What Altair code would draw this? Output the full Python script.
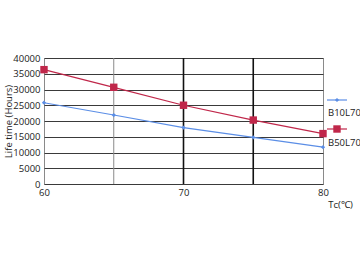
import altair as alt
import pandas as pd

tc = [60, 65, 70, 75, 80]
b10l70 = [25800, 21900, 17900, 14800, 11700]
b50l70 = [36300, 30700, 25000, 20300, 16000]
y_ticks = [0, 5000, 10000, 15000, 20000, 25000, 30000, 35000, 40000]
x_ticks = [60, 70, 80]
vgrid_x = [65, 70, 75]
vgrid_color = ["#8a8a8a", "#111111", "#111111"]
vgrid_width = [1, 1.6, 1.6]

RED = "#c0274a"
BLUE = "#5b8ee6"
FONT = "Open Sans"

df = pd.DataFrame({"tc": tc * 2,
                   "life": b10l70 + b50l70,
                   "series": ["B10L70"] * 5 + ["B50L70"] * 5})
vg = pd.DataFrame({"tc": vgrid_x, "c": vgrid_color, "w": vgrid_width})
one = pd.DataFrame({"k": [0]})

xs = alt.Scale(domain=[60, 80], nice=False, zero=False)
ys = alt.Scale(domain=[0, 40000], nice=False)

xaxis = alt.Axis(values=x_ticks, grid=False, ticks=False, domain=False,
                 labelFontSize=9.5, labelPadding=3, labelColor="#222",
                 labelFont=FONT, labelFlush=False, labelOverlap=False,
                 title="Tc(℃)", titleFont=FONT,
                 titleFontSize=9.5, titleFontWeight="normal", titleColor="#222",
                 titleX=296, titleY=20, titleAlign="center", titleBaseline="middle")
yaxis = alt.Axis(values=y_ticks, format="d", grid=True, gridColor="#3a3a3a", gridWidth=1,
                 ticks=False, domain=False, labelFontSize=9.5, labelPadding=4,
                 labelColor="#222", labelFont=FONT, labelFlush=False,
                 labelOverlap=False,
                 title="Life time (Hours)", titleFont=FONT, titleFontSize=9.5,
                 titleFontWeight="normal", titleColor="#222",
                 titleX=-36, titleY=63, titleAngle=-90,
                 titleAlign="center", titleBaseline="middle")

X = alt.X("tc:Q", scale=xs, axis=xaxis)
Y = alt.Y("life:Q", scale=ys, axis=yaxis)

base = alt.Chart(df)

vrules = alt.Chart(vg).mark_rule().encode(
    x=X,
    color=alt.Color("c:N", scale=None),
    strokeWidth=alt.StrokeWidth("w:Q", scale=None),
)

lines = base.mark_line(strokeWidth=1.2).encode(
    x=X, y=Y,
    color=alt.Color("series:N", scale=alt.Scale(domain=["B10L70", "B50L70"],
                                                range=[BLUE, RED]), legend=None),
)

pts_blue = base.transform_filter(alt.datum.series == "B10L70").mark_point(
    shape="diamond", filled=True, size=18, color=BLUE, opacity=1).encode(x=X, y=Y)
pts_red = base.transform_filter(alt.datum.series == "B50L70").mark_point(
    shape="square", filled=True, size=55, color=RED, opacity=1).encode(x=X, y=Y)

# custom legend (symbol above label)
leg = alt.Chart(one)
leg_rule_b = leg.mark_rule(color=BLUE, strokeWidth=1.2, clip=False).encode(
    x=alt.value(283), x2=alt.value(303), y=alt.value(42))
leg_pt_b = leg.mark_point(shape="diamond", filled=True, size=18,
                          color=BLUE, opacity=1, clip=False).encode(
    x=alt.value(293), y=alt.value(42))
leg_txt_b = leg.mark_text(text="B10L70", align="left", baseline="middle",
                          font=FONT, fontSize=9.5, color="#222",
                          clip=False).encode(
    x=alt.value(284), y=alt.value(55))
leg_rule_r = leg.mark_rule(color=RED, strokeWidth=1.2, clip=False).encode(
    x=alt.value(283), x2=alt.value(303), y=alt.value(71))
leg_pt_r = leg.mark_point(shape="square", filled=True, size=55,
                          color=RED, opacity=1, clip=False).encode(
    x=alt.value(293), y=alt.value(71))
leg_txt_r = leg.mark_text(text="B50L70", align="left", baseline="middle",
                          font=FONT, fontSize=9.5, color="#222",
                          clip=False).encode(
    x=alt.value(284), y=alt.value(85))

chart = alt.layer(vrules, lines, pts_blue, pts_red,
                  leg_rule_b, leg_pt_b, leg_txt_b,
                  leg_rule_r, leg_pt_r, leg_txt_r).properties(
    width=279, height=126,
    autosize=alt.AutoSizeParams(type="none"),
    padding={"left": 44, "top": 58, "right": 37, "bottom": 78},
    background="white",
).configure_view(stroke="#8a8a8a", strokeWidth=1)

chart.save("out.html", embed_options={"renderer": "svg", "actions": False})
